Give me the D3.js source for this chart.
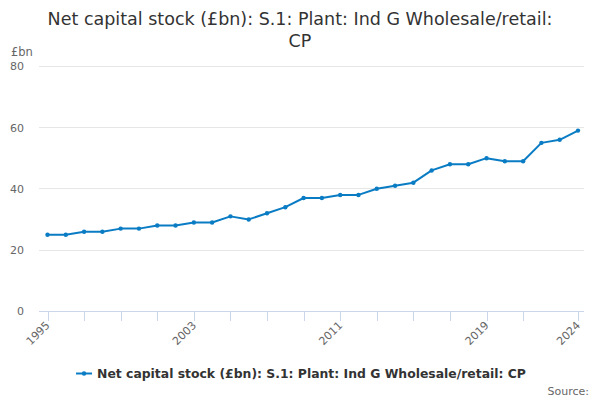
<!DOCTYPE html>
<html><head><meta charset="utf-8">
<script src="https://cdn.jsdelivr.net/npm/d3@7"></script>
<style>body{margin:0;background:#fff;}svg{display:block;font-family:"DejaVu Sans",sans-serif;}</style>
</head><body><svg id="c" width="600" height="400"></svg>
<script>
const years = [1995,1996,1997,1998,1999,2000,2001,2002,2003,2004,2005,2006,2007,2008,2009,2010,2011,2012,2013,2014,2015,2016,2017,2018,2019,2020,2021,2022,2023,2024];
const values = [25,25,26,26,27,27,28,28,29,29,31,30,32,34,37,37,38,38,40,41,42,46,48,48,50,49,49,55,56,59];
const yTicks = [0,20,40,60,80];
const tickYears = [1995,1997,1999,2001,2003,2005,2007,2009,2011,2013,2015,2017,2019,2021,2024];
const labelYears = [1995,2003,2011,2019,2024];
const titleLines = ["Net capital stock (£bn): S.1: Plant: Ind G Wholesale/retail:","CP"];
const seriesName = "Net capital stock (£bn): S.1: Plant: Ind G Wholesale/retail: CP";

const svg = d3.select("#c");
const x = d3.scaleLinear().domain([1995,2024]).range([47.5,578]);
const y = d3.scaleLinear().domain([0,80]).range([311.3,66.3]);
const left = 39, right = 584;

// title
svg.append("text").attr("x",300).attr("y",25).attr("text-anchor","middle")
  .attr("font-size",17.5).attr("fill","#333")
  .selectAll("tspan").data(titleLines).join("tspan")
  .attr("x",300).attr("dy",(d,i)=>i?22:0).text(d=>d);

// grid
svg.append("g").selectAll("line").data(yTicks.filter(d=>d>0)).join("line")
  .attr("x1",left).attr("x2",right).attr("y1",d=>y(d)).attr("y2",d=>y(d))
  .attr("stroke","#e6e6e6").attr("stroke-width",1).attr("shape-rendering","crispEdges");

// y labels
svg.append("g").selectAll("text").data(yTicks).join("text")
  .attr("x",24).attr("y",d=>y(d)+4).attr("text-anchor","end")
  .attr("font-size",11).attr("fill","#666").text(d=>d);
svg.append("text").attr("x",11).attr("y",56).attr("font-size",11.5).attr("fill","#666").text("£bn");

// x axis
svg.append("line").attr("x1",left).attr("x2",right).attr("y1",311.5).attr("y2",311.5)
  .attr("stroke","#ccd6eb").attr("stroke-width",1);
svg.append("g").selectAll("line").data(tickYears).join("line")
  .attr("x1",d=>Math.round(x(d))+0.5).attr("x2",d=>Math.round(x(d))+0.5).attr("y1",311.5).attr("y2",321)
  .attr("stroke","#ccd6eb").attr("stroke-width",1);
svg.append("g").selectAll("text").data(labelYears).join("text")
  .attr("transform",d=>`translate(${x(d)+3},${326}) rotate(-45)`)
  .attr("text-anchor","end").attr("font-size",11).attr("fill","#666").text(d=>d);

// line
const line = d3.line().x((d,i)=>x(years[i])).y(d=>y(d));
svg.append("path").datum(values).attr("d",line).attr("fill","none")
  .attr("stroke","#0a7cc4").attr("stroke-width",2).attr("stroke-linejoin","round");
svg.append("g").selectAll("circle").data(values).join("circle")
  .attr("cx",(d,i)=>x(years[i])).attr("cy",d=>y(d)).attr("r",2.2).attr("fill","#0a7cc4");

// legend
const lg = svg.append("g");
const lt = lg.append("text").attr("x",97).attr("y",378).attr("font-size",12.4).attr("font-weight","bold")
  .attr("fill","#333").text(seriesName);
const w = lt.node().getComputedTextLength();
const total = 21 + w;
const sx = 301 - total/2;
lt.attr("x", sx + 21);
lg.append("line").attr("x1",sx).attr("x2",sx+16).attr("y1",373.5).attr("y2",373.5)
  .attr("stroke","#0a7cc4").attr("stroke-width",2);
lg.append("circle").attr("cx",sx+8).attr("cy",373.5).attr("r",2.2).attr("fill","#0a7cc4");

svg.append("text").attr("x",589).attr("y",395).attr("text-anchor","end")
  .attr("font-size",11).attr("fill","#666").text("Source:");
</script></body></html>
